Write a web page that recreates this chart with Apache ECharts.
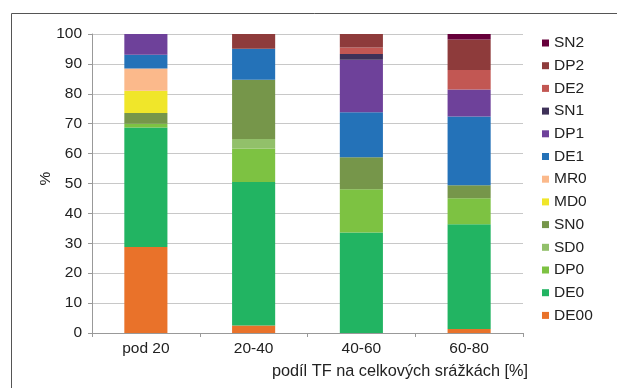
<!DOCTYPE html>
<html>
<head>
<meta charset="utf-8">
<script src="https://cdn.jsdelivr.net/npm/echarts@6/dist/echarts.min.js"></script>
<style>html,body{margin:0;padding:0;background:#fff}#c{width:617px;height:388px}</style>
</head>
<body>
<div id="c"></div>
<script>
var categories = ['pod 20', '20-40', '40-60', '60-80'];
var yTicks = [0, 10, 20, 30, 40, 50, 60, 70, 80, 90, 100];
var seriesNames = ['DE00', 'DE0', 'DP0', 'SD0', 'SN0', 'MD0', 'MR0', 'DE1', 'DP1', 'SN1', 'DE2', 'DP2', 'SN2'];
var DE00 = [28.8, 2.5, 0, 1.3];
var DE0  = [39.9, 48.0, 33.6, 35.1];
var DP0  = [1.3, 11.2, 14.5, 8.7];
var SD0  = [0, 3.2, 0, 0];
var SN0  = [3.6, 19.8, 10.7, 4.3];
var MD0  = [7.4, 0, 0, 0];
var MR0  = [7.5, 0, 0, 0];
var DE1  = [4.6, 10.4, 15.0, 23.0];
var DP1  = [6.9, 0, 17.6, 9.0];
var SN1  = [0, 0, 1.9, 0];
var DE2  = [0, 0, 2.2, 6.6];
var DP2  = [0, 4.9, 4.5, 10.2];
var SN2  = [0, 0, 0, 1.8];
var values = [DE00, DE0, DP0, SD0, SN0, MD0, MR0, DE1, DP1, SN1, DE2, DP2, SN2];
var colors = ['#e9722a', '#22b462', '#7dc242', '#92c06a', '#76964a', '#f0e62a', '#fbb98b',
              '#2472b8', '#6e419a', '#3e3158', '#c25753', '#8e3b3b', '#66003a'];

var font = 'Liberation Sans, Arial, sans-serif';
var fs = 15.5;
var chart = echarts.init(document.getElementById('c'), null, {renderer: 'canvas'});
var series = seriesNames.map(function (n, i) {
  return {
    name: n, type: 'bar', stack: 'all', barWidth: '40%',
    itemStyle: {color: colors[i]},
    data: values[i].map(function (v) { return v === 0 ? null : v; })
  };
});
chart.setOption({
  animation: false,
  textStyle: {fontFamily: font},
  grid: {left: 92, right: 94, top: 34, bottom: 55, containLabel: false},
  legend: {
    orient: 'vertical', left: 537, top: 30,
    itemWidth: 7, itemHeight: 7, itemGap: 6.7, icon: 'rect',
    textStyle: {fontFamily: font, fontSize: fs, color: '#222', padding: [0, 0, 0, 0]},
    data: seriesNames.slice().reverse()
  },
  xAxis: {
    type: 'category', data: categories,
    axisLine: {lineStyle: {color: '#999', width: 1}},
    axisTick: {show: true, length: 4, lineStyle: {color: '#999'}},
    axisLabel: {fontFamily: font, fontSize: fs, color: '#222', margin: 8},
    name: 'podíl TF na celkových srážkách [%]',
    nameLocation: 'end', nameGap: 5, nameMoveOverlap: false,
    nameTextStyle: {fontFamily: font, fontSize: 16.3, color: '#222', align: 'right', verticalAlign: 'top', padding: [31, 0, 0, 0]}
  },
  yAxis: {
    type: 'value', min: 0, max: 100, interval: 10,
    axisLine: {show: true, lineStyle: {color: '#999', width: 1}},
    axisTick: {show: true, length: 4, lineStyle: {color: '#999'}},
    splitLine: {lineStyle: {color: '#c8c8c8', width: 1}},
    axisLabel: {fontFamily: font, fontSize: fs, color: '#222', margin: 10,
      formatter: function (v) { return yTicks.indexOf(v) >= 0 ? String(v) : ''; }},
    name: '%', nameLocation: 'middle', nameGap: 38, nameRotate: 90, nameMoveOverlap: false,
    nameTextStyle: {fontFamily: font, fontSize: fs, color: '#222', padding: [0, 0, 0, 10]}
  },
  graphic: [{
    type: 'rect', left: 9, top: 11, silent: true,
    shape: {width: 700, height: 500},
    style: {fill: 'none', stroke: '#555', lineWidth: 1}
  }],
  series: series
});
</script>
</body>
</html>
